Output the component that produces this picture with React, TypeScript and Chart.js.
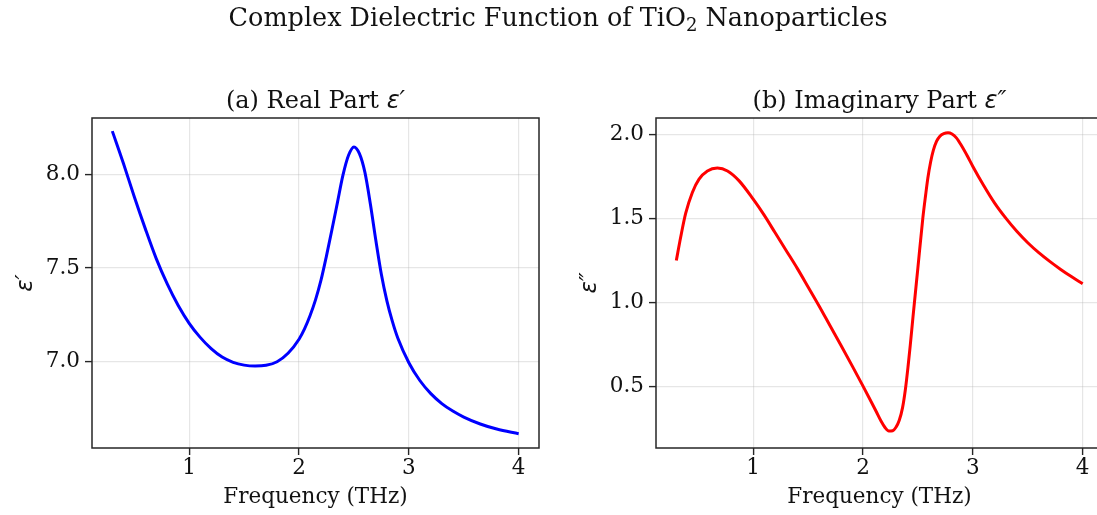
import React, { useEffect, useRef } from 'react';
import { Chart, registerables } from 'chart.js';

Chart.register(...registerables);

// ---- data ----
const realFreq = [0.30, 0.40, 0.50, 0.60, 0.70, 0.80, 0.90, 1.00, 1.10, 1.20, 1.30, 1.40, 1.50, 1.60, 1.70, 1.80, 1.90, 2.00, 2.05, 2.10, 2.15, 2.20, 2.25, 2.30, 2.35, 2.40, 2.45, 2.50, 2.55, 2.60, 2.65, 2.70, 2.75, 2.80, 2.85, 2.90, 3.00, 3.10, 3.20, 3.30, 3.40, 3.50, 3.65, 3.80, 4.00];
const realEps = [8.23, 8.06, 7.88, 7.71, 7.55, 7.415, 7.30, 7.205, 7.13, 7.07, 7.025, 6.997, 6.982, 6.977, 6.981, 7.00, 7.045, 7.12, 7.175, 7.245, 7.33, 7.435, 7.565, 7.705, 7.85, 7.995, 8.10, 8.146, 8.11, 8.01, 7.84, 7.645, 7.465, 7.325, 7.215, 7.125, 6.995, 6.90, 6.83, 6.777, 6.737, 6.705, 6.668, 6.641, 6.616];

const imagFreq = [0.30, 0.34, 0.385, 0.446, 0.507, 0.583, 0.674, 0.766, 0.872, 1.00, 1.10, 1.20, 1.30, 1.40, 1.50, 1.60, 1.70, 1.80, 1.90, 2.00, 2.06, 2.12, 2.165, 2.20, 2.235, 2.27, 2.30, 2.33, 2.36, 2.385, 2.41, 2.43, 2.455, 2.50, 2.545, 2.57, 2.59, 2.615, 2.64, 2.67, 2.70, 2.735, 2.774, 2.81, 2.85, 2.90, 2.95, 3.00, 3.10, 3.20, 3.30, 3.40, 3.50, 3.60, 3.70, 3.80, 3.90, 4.00];
const imagEps = [1.25, 1.39, 1.53, 1.655, 1.734, 1.783, 1.80, 1.783, 1.724, 1.615, 1.52, 1.415, 1.31, 1.205, 1.093, 0.98, 0.862, 0.745, 0.625, 0.503, 0.428, 0.352, 0.294, 0.257, 0.236, 0.238, 0.258, 0.30, 0.375, 0.48, 0.62, 0.745, 0.915, 1.21, 1.505, 1.64, 1.74, 1.835, 1.905, 1.96, 1.99, 2.005, 2.01, 2.003, 1.98, 1.93, 1.872, 1.81, 1.695, 1.59, 1.502, 1.424, 1.356, 1.297, 1.245, 1.197, 1.153, 1.112];

const freqTicks = [1, 2, 3, 4];
const realTicks = [7.0, 7.5, 8.0];
const imagTicks = [0.5, 1.0, 1.5, 2.0];
const freqRange = [0.115, 4.185];
const realRange = [6.54, 8.30];
const imagRange = [0.135, 2.098];

const SERIF = '"DejaVu Serif", serif';
const MATH = '"DejaVu Sans", sans-serif';
const TEXT = '#111111';
const SPINE = '#262626';

type Part = { text: string; font: string; dy?: number };

function drawParts(ctx: CanvasRenderingContext2D, parts: Part[], cx: number, y: number) {
  let total = 0;
  const widths = parts.map((p) => {
    ctx.font = p.font;
    const w = ctx.measureText(p.text).width;
    total += w;
    return w;
  });
  let x = cx - total / 2;
  ctx.textAlign = 'left';
  ctx.textBaseline = 'alphabetic';
  parts.forEach((p, i) => {
    ctx.font = p.font;
    ctx.fillText(p.text, x, y + (p.dy || 0));
    x += widths[i];
  });
}

function decorPlugin(title: Part[], extra?: (ctx: CanvasRenderingContext2D) => void) {
  return {
    id: 'decor',
    afterDraw(chart: any) {
      const { ctx, chartArea: a } = chart;
      ctx.save();
      ctx.strokeStyle = SPINE;
      ctx.lineWidth = 1.5;
      ctx.strokeRect(a.left, a.top, a.right - a.left, a.bottom - a.top);
      ctx.fillStyle = TEXT;
      drawParts(ctx, title, (a.left + a.right) / 2, a.top - 10);
      if (extra) extra(ctx);
      ctx.restore();
    },
  };
}

function makeConfig(
  xs: number[], ys: number[], color: string, yTicks: number[], yRange: number[],
  yTitle: string, yWidth: number, padRight: number, yTitlePad: number, plugin: any,
): any {
  return {
    type: 'line',
    data: {
      datasets: [{
        data: xs.map((x, i) => ({ x, y: ys[i] })),
        borderColor: color,
        borderWidth: 3,
        pointRadius: 0,
        fill: false,
        cubicInterpolationMode: 'monotone',
      }],
    },
    options: {
      animation: false,
      responsive: false,
      devicePixelRatio: 1,
      events: [],
      layout: { padding: { left: 0, right: padRight, top: 118, bottom: 0 } },
      plugins: { legend: { display: false }, tooltip: { enabled: false }, title: { display: false } },
      scales: {
        x: {
          type: 'linear',
          min: freqRange[0],
          max: freqRange[1],
          afterBuildTicks: (s: any) => { s.ticks = freqTicks.map((v) => ({ value: v })); },
          afterFit: (s: any) => { s.height = 67; },
          ticks: {
            font: { family: SERIF, size: 21.5 },
            color: TEXT,
            padding: 1,
            maxRotation: 0,
            autoSkip: false,
            callback: (v: any) => String(v),
          },
          grid: { color: 'rgba(176,176,176,0.32)', lineWidth: 1.2, tickColor: SPINE, tickLength: 7, tickWidth: 1.4 },
          border: { display: false },
          title: {
            display: true,
            text: 'Frequency (THz)',
            font: { family: SERIF, size: 21.5 },
            color: TEXT,
            padding: { top: 0, bottom: 5 },
          },
        },
        y: {
          type: 'linear',
          min: yRange[0],
          max: yRange[1],
          afterBuildTicks: (s: any) => { s.ticks = yTicks.map((v) => ({ value: v })); },
          afterFit: (s: any) => { s.width = yWidth; },
          ticks: {
            font: { family: SERIF, size: 21.5 },
            color: TEXT,
            padding: 5,
            autoSkip: false,
            callback: (v: any) => Number(v).toFixed(1),
          },
          grid: { color: 'rgba(176,176,176,0.32)', lineWidth: 1.2, tickColor: SPINE, tickLength: 7, tickWidth: 1.4 },
          border: { display: false },
          title: {
            display: true,
            text: yTitle,
            font: { family: MATH, size: 23, style: 'italic' },
            color: TEXT,
            padding: { top: yTitlePad, bottom: 0 },
          },
        },
      },
    },
    plugins: [plugin],
  };
}

export default function App() {
  const leftRef = useRef<HTMLCanvasElement>(null);
  const rightRef = useRef<HTMLCanvasElement>(null);

  useEffect(() => {
    document.body.style.margin = '0';
    const titleFont = `24px ${SERIF}`;
    const mathFont = `italic 24px ${MATH}`;
    const supPlugin = decorPlugin(
      [{ text: '(a) Real Part ', font: titleFont }, { text: 'ε′', font: mathFont }],
      (ctx) => {
        drawParts(ctx, [
          { text: 'Complex Dielectric Function of TiO', font: `25.5px ${SERIF}` },
          { text: '2', font: `18px ${SERIF}`, dy: 5 },
          { text: ' Nanoparticles', font: `25.5px ${SERIF}` },
        ], 558, 26);
      },
    );
    const rightPlugin = decorPlugin(
      [{ text: '(b) Imaginary Part ', font: titleFont }, { text: 'ε″', font: mathFont }],
    );
    const left = new Chart(leftRef.current as HTMLCanvasElement,
      makeConfig(realFreq, realEps, '#0000ff', realTicks, realRange, 'ε′', 92, 1097 - 539, 12, supPlugin));
    const right = new Chart(rightRef.current as HTMLCanvasElement,
      makeConfig(imagFreq, imagEps, '#ff0000', imagTicks, imagRange, 'ε″', 96, 560 - 543, 16, rightPlugin));
    return () => { left.destroy(); right.destroy(); };
  }, []);

  return (
    <div style={{ position: 'fixed', left: 0, top: 0, width: 1097, height: 515, overflow: 'hidden', background: '#ffffff' }}>
      <canvas ref={leftRef} width={1097} height={515} style={{ position: 'absolute', left: 0, top: 0, width: 1097, height: 515 }} />
      <canvas ref={rightRef} width={560} height={515} style={{ position: 'absolute', left: 560, top: 0, width: 560, height: 515 }} />
    </div>
  );
}
